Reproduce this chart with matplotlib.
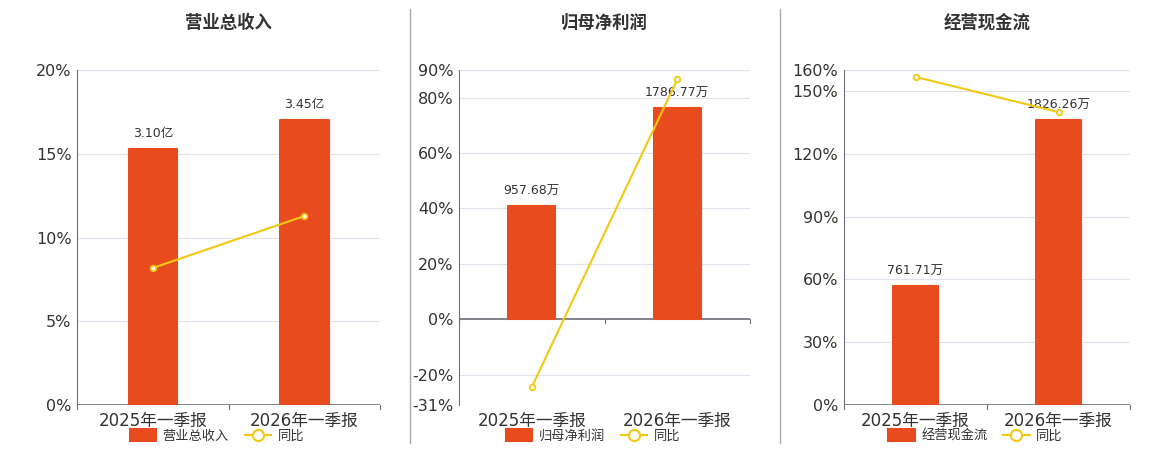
import matplotlib.pyplot as plt
from matplotlib.patches import Patch
from matplotlib.lines import Line2D

plt.rcParams['font.family'] = ['DejaVu Sans', 'Noto Sans CJK SC']

periods = ["2025年一季报", "2026年一季报"]

titles = ["营业总收入", "归母净利润", "经营现金流"]
bar_names = ["营业总收入", "归母净利润", "经营现金流"]

# 柱子数值 (亿 / 万)
revenue = [3.10, 3.45]
revenue_lbl = ["3.10亿", "3.45亿"]
profit = [957.68, 1786.77]
profit_lbl = ["957.68万", "1786.77万"]
cashflow = [761.71, 1826.26]
cashflow_lbl = ["761.71万", "1826.26万"]

# 同比 (%)
revenue_yoy = [8.18, 11.28]
profit_yoy = [-24.5, 86.6]
cashflow_yoy = [156.7, 139.9]

ticks1 = [0, 5, 10, 15, 20]
ticks2 = [-31, -20, 0, 20, 40, 60, 80, 90]
ticks3 = [0, 30, 60, 90, 120, 150, 160]

BAR = "#E84C1E"
LINE = "#F2C811"
GRID = "#E0E3EE"
AXIS = "#6E7079"

fig = plt.figure(figsize=(11.6, 4.5), dpi=100)

panels = [
    (0.0664, 0.2612, revenue, revenue_lbl, revenue_yoy, ticks1, 4.05),
    (0.3957, 0.2509, profit, profit_lbl, profit_yoy, ticks2, 2108),
    (0.7276, 0.2466, cashflow, cashflow_lbl, cashflow_yoy, ticks3, 2147),
]

for i, (left, width, vals, lbls, yoy, ticks, bmax) in enumerate(panels):
    ax = fig.add_axes([left, 0.1, width, 0.7444])
    lo, hi = ticks[0], ticks[-1]
    ax.set_ylim(lo, hi)
    ax.set_xlim(-0.5, 1.5)
    ax.set_yticks(ticks)
    ax.set_yticklabels([f"{t}%" for t in ticks], fontsize=11.5, color="#333333")
    for t in ticks:
        ax.axhline(t, color=GRID, lw=0.8, zorder=0)
    for s in ["top", "right", "bottom"]:
        ax.spines[s].set_visible(False)
    ax.spines["left"].set_color(AXIS)
    ax.tick_params(axis="y", length=0, pad=4)
    ax.tick_params(axis="x", length=0, pad=5)
    ax.set_xticks([0, 1])
    ax.set_xticklabels(periods, fontsize=12, color="#333333")
    # 0 轴线 + 刻度
    ax.axhline(0, color=AXIS, lw=1.2, zorder=3)
    for xt in [-0.5, 0.5, 1.5]:
        ax.plot([xt, xt], [0, -(hi - lo) * 0.012], color=AXIS, lw=0.8,
                clip_on=False, zorder=3)

    # 柱子用次坐标
    ax2 = ax.twinx()
    ax2.set_ylim(bmax * lo / hi, bmax)
    ax2.axis("off")
    bars = ax2.bar([0, 1], vals, width=0.32, color=BAR, edgecolor=BAR,
                   lw=1.5, zorder=2)
    for b in bars:
        b.set_joinstyle("round")
    for x, v, t in zip([0, 1], vals, lbls):
        ax2.annotate(t, (x, v), xytext=(0, 6), textcoords="offset points",
                     ha="center", va="bottom", fontsize=9, color="#333333")

    ax3 = ax.twinx()
    ax3.set_ylim(lo, hi)
    ax3.axis("off")
    ax3.plot([0, 1], yoy, color=LINE, lw=1.5, marker="o", ms=4,
             mfc="white", mec=LINE, mew=1.3, zorder=4)

    cx = left + width / 2
    fig.text(cx, 0.95, titles[i], ha="center", va="center", fontsize=12.5,
             fontweight="bold", color="#333333")

    handles = [Patch(facecolor=BAR, edgecolor=BAR, joinstyle="round", lw=1.5),
               Line2D([0], [0], color=LINE, lw=1.5, marker="o", ms=8,
                      mfc="white", mec=LINE, mew=1.5)]
    fig.legend(handles, [bar_names[i], "同比"], loc="center",
               bbox_to_anchor=(cx - 0.01, 0.031), ncol=2, frameon=False,
               fontsize=9.5, handlelength=2.0, handleheight=1.0,
               columnspacing=1.2, handletextpad=0.5, labelcolor="#333333")

# 分隔线
for xs in [410 / 1160, 780 / 1160]:
    fig.add_artist(Line2D([xs, xs], [0.015, 0.98], color="#AAAAAA", lw=1))

fig.savefig("out.png", dpi=100)
